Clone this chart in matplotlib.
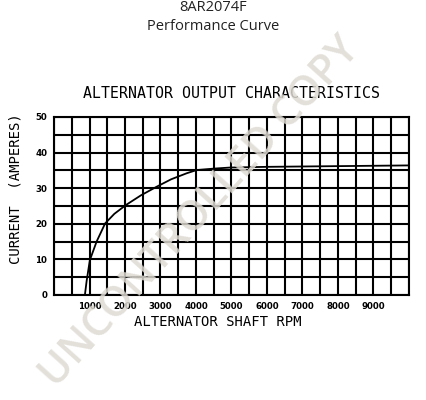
import numpy as np
from matplotlib import pyplot as plt

# curve
rpm = [870, 920, 1010, 1200, 1440, 1700, 2030, 2450, 2890, 3300, 3740, 4020,
       4500, 4960, 6000, 7000, 8000, 9000, 10000]
amps = [0, 4, 9.8, 15, 20.1, 22.8, 25.3, 28, 30.4, 32.5, 34.2, 35.1,
        35.5, 35.8, 36.0, 36.1, 36.2, 36.3, 36.4]

x_ticks = [1000, 2000, 3000, 4000, 5000, 6000, 7000, 8000, 9000]
y_ticks = [0, 10, 20, 30, 40, 50]

fig = plt.figure(figsize=(4.26, 4.0), dpi=100)
ax = fig.add_axes([0.1268, 0.2625, 0.833, 0.445])

ax.plot(rpm, amps, color='black', lw=1.3, zorder=3)

ax.set_xlim(0, 10000)
ax.set_ylim(0, 50)
ax.set_xticks(x_ticks)
ax.set_xticks(np.arange(0, 10001, 500), minor=True)
ax.set_yticks(y_ticks)
ax.set_yticks(np.arange(0, 51, 5), minor=True)
ax.grid(True, which='both', color='black', lw=1.5)
ax.tick_params(which='both', length=0, pad=5)
for lab in ax.get_xticklabels() + ax.get_yticklabels():
    lab.set_fontsize(6.2)
    lab.set_fontweight('bold')
    lab.set_family('DejaVu Sans')
for s in ax.spines.values():
    s.set_linewidth(1.5)

ax.set_xlabel('ALTERNATOR SHAFT RPM', fontsize=10, family='DejaVu Sans Mono')
ax.xaxis.set_label_coords(0.46, -0.112)
ax.set_ylabel('CURRENT  (AMPERES)', fontsize=10, family='DejaVu Sans Mono')
ax.yaxis.set_label_coords(-0.088, 0.6)
ax.set_title('ALTERNATOR OUTPUT CHARACTERISTICS', fontsize=10.7,
             family='DejaVu Sans Mono', pad=14)

fig.text(0.5, 1.0, '8AR2074F', ha='center', va='top', fontsize=10.5,
         family='Open Sans', color='#222222')
fig.text(0.5, 0.952, 'Performance Curve', ha='center', va='top', fontsize=10.5,
         family='Open Sans', color='#222222')

# watermark
fig.text(0.47, 0.47, 'UNCONTROLLED COPY', ha='center', va='center', rotation=48,
         fontsize=30, fontweight='semibold', family='Open Sans', color='#dedad3',
         alpha=0.85, zorder=10)

fig.savefig('out.png', dpi=100)
